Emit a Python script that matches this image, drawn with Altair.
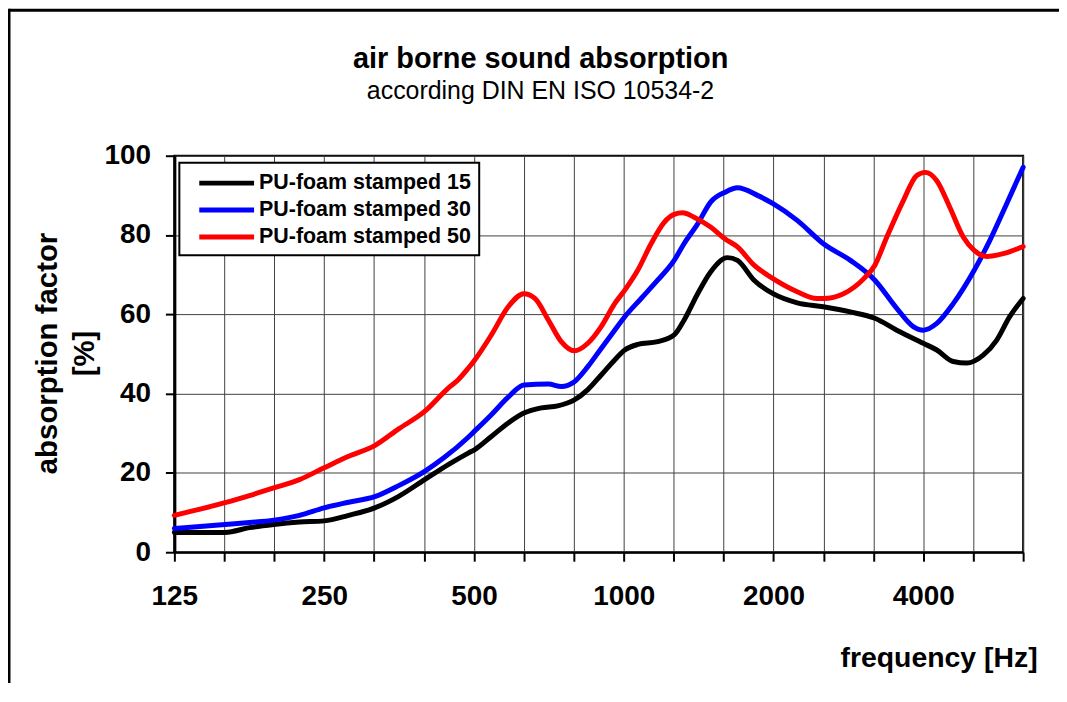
import altair as alt
import pandas as pd

# ---- data (frequency in Hz, absorption in %) ----
freq_15 = [125, 158, 177, 198, 223, 250, 280, 316, 353, 398, 444, 487, 502, 542, 586, 630,
           683, 737, 796, 847, 901, 959, 1005, 1067, 1170, 1263, 1322, 1408, 1495, 1617,
           1693, 1828, 1996, 2232, 2520, 2855, 3197, 3538, 4000, 4258, 4595, 4890, 5278,
           5620, 5966, 6350]
abs_15 = [5.0, 5.0, 6.2, 7.0, 7.6, 7.9, 9.3, 11.2, 14.1, 18.3, 22.1, 25.0, 25.9, 29.2, 32.6, 35.1,
          36.4, 36.9, 38.4, 41.0, 44.7, 48.5, 51.0, 52.4, 53.1, 54.8, 58.5, 65.2, 70.7, 74.3,
          73.6, 68.6, 65.2, 62.9, 61.9, 60.6, 59.0, 56.0, 52.7, 51.0, 48.1, 47.7, 49.7,
          53.5, 59.4, 64.0]

freq_30 = [125, 158, 177, 198, 223, 250, 280, 316, 353, 398, 435, 487, 502, 542, 586, 630,
           706, 749, 796, 847, 901, 959, 1005, 1084, 1170, 1263, 1322, 1408, 1495, 1599,
           1693, 1857, 1996, 2232, 2520, 2855, 3197, 3538, 3819, 4000, 4258, 4595, 5063,
           5440, 5884, 6350]
abs_30 = [6.0, 7.0, 7.5, 8.1, 9.3, 11.2, 12.6, 14.0, 16.8, 20.4, 23.8, 29.0, 30.6, 34.7, 39.1, 42.2,
          42.4, 41.8, 43.0, 46.8, 51.4, 56.0, 59.4, 64.0, 68.6, 73.6, 77.8, 82.8, 88.3, 90.8,
          91.9, 90.0, 87.9, 83.7, 77.8, 73.6, 68.6, 61.5, 56.9, 56.0, 57.7, 62.7, 71.1,
          78.6, 87.9, 97.1]

freq_50 = [125, 140, 158, 177, 198, 223, 250, 280, 316, 353, 398, 444, 465, 487, 502, 542,
           586, 630, 663, 706, 749, 796, 847, 901, 959, 1005, 1067, 1135, 1206, 1263, 1313,
           1385, 1495, 1599, 1693, 1828, 1996, 2232, 2445, 2520, 2765, 3038, 3197, 3379,
           3648, 3881, 4037, 4258, 4522, 4813, 5063, 5365, 5790, 6350]
abs_50 = [9.3, 10.8, 12.5, 14.3, 16.2, 18.3, 21.3, 24.2, 26.9, 31.1, 35.5, 41.4, 43.5, 46.4, 48.5, 54.8,
          61.9, 65.2, 64.0, 58.5, 53.1, 50.8, 52.7, 56.9, 62.7, 66.1, 71.1, 77.8, 83.2, 85.2, 85.6,
          84.5, 82.0, 79.0, 77.0, 72.4, 69.0, 65.7, 64.0, 64.0, 65.2, 69.0, 72.4, 79.5,
          88.7, 95.0, 95.8, 93.7, 87.0, 79.5, 76.1, 74.6, 75.3, 77.1]

series_names = ["PU-foam stamped 15", "PU-foam stamped 30", "PU-foam stamped 50"]
series_colors = ["#000000", "#0000FF", "#FF0000"]

octave_labels = [125, 250, 500, 1000, 2000, 4000]
third_octave_ticks = [125 * 2 ** (k / 3) for k in range(18)]
x_max = 125 * 2 ** (17 / 3)
y_ticks = [0, 20, 40, 60, 80, 100]

title_text = "air borne sound absorption"
subtitle_text = "according DIN EN ISO 10534-2"

rows = []
for name, fs, vs in zip(series_names, [freq_15, freq_30, freq_50], [abs_15, abs_30, abs_50]):
    for f, v in zip(fs, vs):
        rows.append({"freq": f, "absorption": v, "series": name})
df = pd.DataFrame(rows)

FONT = "Liberation Sans"

label_list = ",".join(str(v) for v in octave_labels)
label_expr = (f"indexof([{label_list}], round(datum.value)) >= 0 ? "
              f"toString(round(datum.value)) : ''")

lines = alt.Chart(df).mark_line(
    strokeWidth=5, interpolate="monotone", strokeJoin="round", strokeCap="round"
).encode(
    x=alt.X("freq:Q",
            scale=alt.Scale(type="log", base=2, domain=[125, x_max], nice=False),
            axis=alt.Axis(values=third_octave_ticks, labelExpr=label_expr,
                          labelOverlap=False, labelFlush=False,
                          labelFontSize=28, labelFontWeight="bold", labelPadding=21,
                          tickSize=9, tickWidth=2, domainWidth=2,
                          title="frequency [Hz]", titleFontSize=28.5, titleFontWeight="bold",
                          titleAlign="right", titleBaseline="alphabetic", titleAngle=0,
                          titleX=866, titleY=115)),
    y=alt.Y("absorption:Q",
            scale=alt.Scale(domain=[0, 100], nice=False),
            axis=alt.Axis(values=y_ticks, labelFontSize=28, labelFontWeight="bold",
                          labelPadding=15, tickSize=9, tickWidth=2, domainWidth=3,
                          title=["absorption factor", "[%]"], titleFontSize=29.5,
                          titleFontWeight="bold", titleAngle=270, titleAlign="center",
                          titleBaseline="alphabetic", titleLineHeight=37,
                          titleX=-118, titleY=198)),
    color=alt.Color("series:N",
                    scale=alt.Scale(domain=series_names, range=series_colors),
                    legend=alt.Legend(orient="none", legendX=5, legendY=7, title=None,
                                      symbolType="M-2.75,0L2.75,0", symbolSize=400,
                                      symbolStrokeWidth=5, symbolOffset=27,
                                      labelFontSize=21.5, labelFontWeight="bold",
                                      labelFont=FONT, labelColor="black",
                                      labelOffset=20, labelLimit=400,
                                      padding=8, rowPadding=4,
                                      strokeColor="black", fillColor="white")),
)

one = pd.DataFrame({"k": [0]})
frame_top = alt.Chart(one).mark_rule(color="black", strokeWidth=3).encode(
    x=alt.value(-166), x2=alt.value(890), y=alt.value(-146))
frame_left = alt.Chart(one).mark_rule(color="black", strokeWidth=3).encode(
    x=alt.value(-166), y=alt.value(-147.5), y2=alt.value(540))

title_mark = alt.Chart(one).mark_text(
    text=title_text, font=FONT, fontSize=29, fontWeight="bold", color="black",
    align="center", baseline="alphabetic"
).encode(x=alt.value(367.7), y=alt.value(-88.3))
subtitle_mark = alt.Chart(one).mark_text(
    text=subtitle_text, font=FONT, fontSize=25, fontWeight="normal", color="black",
    align="center", baseline="alphabetic"
).encode(x=alt.value(367.5), y=alt.value(-56.7))

chart = alt.layer(lines, frame_top, frame_left, title_mark, subtitle_mark).properties(
    width=852, height=398,
    autosize="none",
    padding={"left": 167, "top": 147, "right": 36, "bottom": 130},
).configure_view(
    stroke="black", strokeWidth=2
).configure_axis(
    gridColor="#404040", gridWidth=1, gridOpacity=1,
    domainColor="black", tickColor="black", labelColor="black", titleColor="black",
    labelFont=FONT, titleFont=FONT
).configure_legend(
    strokeWidth=2
)

chart.save("out.html", embed_options={"renderer": "svg", "actions": False})
